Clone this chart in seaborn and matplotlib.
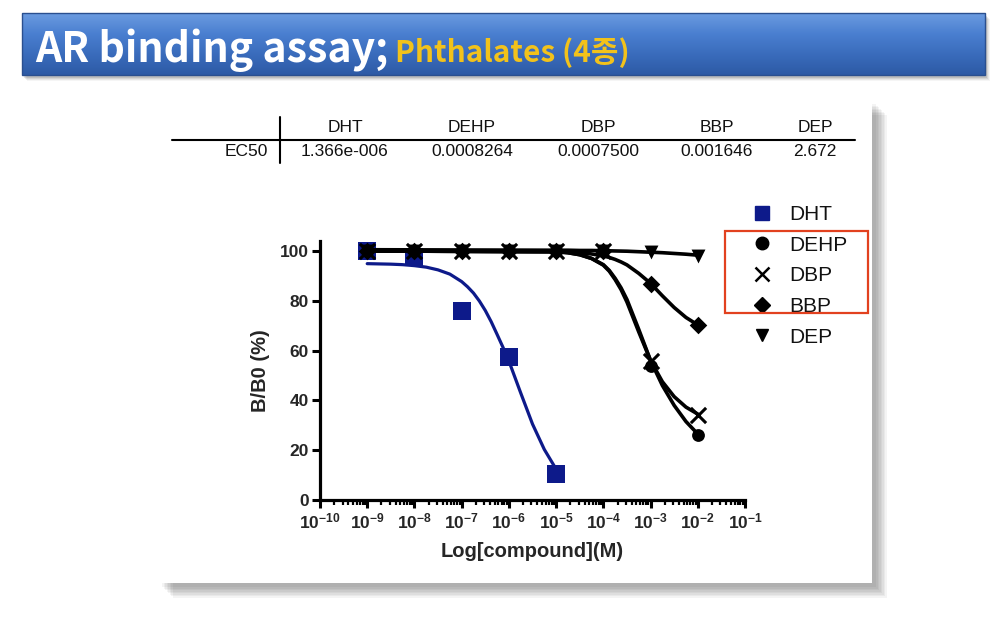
import numpy as np
import pandas as pd
import matplotlib
matplotlib.use("Agg")
import matplotlib.pyplot as plt
import seaborn as sns
from matplotlib.patches import Rectangle
from matplotlib.lines import Line2D
import matplotlib.ticker as mticker

# ---------------- data ----------------
compounds = ["DHT", "DEHP", "DBP", "BBP", "DEP"]
ec50_labels = ["1.366e-006", "0.0008264", "0.0007500", "0.001646", "2.672"]

dht_dose_log = [-9, -8, -7, -6, -5]
dht_y = [100, 97.7, 76, 57.3, 10.5]

phth_dose_log = [-9, -8, -7, -6, -5, -4, -3, -2]
dehp_y = [100, 100, 100, 100, 100, 100, 54, 26]
dbp_y = [100, 100, 100, 100, 100, 100, 56, 34]
bbp_y = [100, 100, 100, 100, 100, 100, 86.6, 70.3]
dep_y = [100, 100, 100, 100, 100, 100, 99.7, 98]

# fitted curves
dht_fit_log = [-9, -8.75, -8.5, -8.25, -8, -7.75, -7.5, -7.25, -7, -6.875, -6.75, -6.625,
               -6.5, -6.375, -6.25, -6.125, -6, -5.75, -5.5, -5.25, -5]
dht_fit_y = [94.9, 94.8, 94.7, 94.5, 94.1, 93.5, 92.4, 90.7, 87.7, 85.6, 83.1, 79.9,
             76.1, 71.6, 66.5, 61.3, 55.8, 43, 30.5, 20.3, 12.4]

phth_fit_log = [-9, -5, -4.75, -4.5, -4.25, -4, -3.875, -3.75, -3.625, -3.5, -3.25, -3,
                -2.75, -2.5, -2.25, -2]
dehp_fit_y = [100, 99.7, 99.3, 98.5, 97, 94.5, 92.2, 89, 85.2, 80.5, 68.5, 56,
              46, 38, 31.5, 26.5]
dbp_fit_y = [100, 99.7, 99.3, 98.5, 97, 94.3, 91.9, 88.5, 84.5, 79.5, 67.5, 56,
             47.5, 41.5, 37.3, 34.5]
bbp_fit_y = [100, 99.7, 99.5, 99.3, 98.8, 98, 97.4, 96.6, 95.6, 94.4, 91, 87,
             82, 77.3, 73.3, 70.3]
dep_fit_y = [100.5, 100.3, 100.3, 100.2, 100.2, 100.1, 100.05, 100, 99.95, 99.9, 99.7, 99.5,
             99.3, 99, 98.7, 98.3]

yticks = [0, 20, 40, 60, 80, 100]
xtick_exp = list(range(-10, 0))

title_main = "AR binding assay;"
title_sub = "Phthalates (4종)"
xlabel = "Log[compound](M)"
ylabel = "B/B0 (%)"

# ---------------- style ----------------
sns.set_theme(style="white")
plt.rcParams["font.family"] = ["Liberation Sans", "DejaVu Sans"]
plt.rcParams["mathtext.default"] = "regular"

W, H = 990, 626
fig = plt.figure(figsize=(W / 100, H / 100), dpi=100)
fig.patch.set_facecolor("white")


def fx(x):
    return x / W


def fy(y):
    return 1 - y / H


# ---------------- banner ----------------
for i, a in enumerate([0.10, 0.08, 0.06, 0.04]):
    fig.patches.append(Rectangle((fx(22 + 2 + i), fy(75 + 3 + i)), fx(963), 62 / H,
                                 transform=fig.transFigure, facecolor="black",
                                 alpha=a, edgecolor="none", zorder=0))
bax = fig.add_axes([fx(22), fy(75), fx(963), 62 / H], zorder=1)
grad = np.linspace(0, 1, 100).reshape(-1, 1)
cmap = matplotlib.colors.LinearSegmentedColormap.from_list(
    "bn", ["#6b9be0", "#4a7fd0", "#3a6cbc", "#2d5aa5"])
bax.imshow(grad, aspect="auto", cmap=cmap, extent=[0, 1, 0, 1], origin="upper")
bax.set_axis_off()
fig.patches.append(Rectangle((fx(22), fy(75)), fx(963), 62 / H, transform=fig.transFigure,
                             facecolor="none", edgecolor="#2a4f8f", linewidth=1, zorder=2))

title_family = ["Noto Sans CJK KR", "DejaVu Sans"]
t1 = fig.text(fx(35), fy(62), title_main, color="white", fontsize=29.5, fontweight="bold",
              family=title_family, va="baseline", zorder=3)
fig.canvas.draw()
bb = t1.get_window_extent()
fig.text(bb.x1 / W + fx(7), fy(62), title_sub, color="#f2c21b", fontsize=21.5,
         fontweight="bold", family=title_family, va="baseline", zorder=3)

# ---------------- panel with shadow ----------------
for i in range(8):
    fig.patches.append(Rectangle((fx(158 + 4 + i * 1.5), fy(583 + 4 + i * 1.5)), fx(714), 483 / H,
                                 transform=fig.transFigure, facecolor="black",
                                 alpha=0.045, edgecolor="none", zorder=0))
fig.patches.append(Rectangle((fx(158), fy(583)), fx(714), 483 / H, transform=fig.transFigure,
                             facecolor="white", edgecolor="none", zorder=0.5))

# ---------------- table ----------------
fig.lines.append(Line2D([fx(172), fx(855)], [fy(140), fy(140)], transform=fig.transFigure,
                        color="black", linewidth=1.5))
fig.lines.append(Line2D([fx(280), fx(280)], [fy(117), fy(163)], transform=fig.transFigure,
                        color="black", linewidth=1.5))
col_x = [345, 472, 598, 717, 815]
for cx, name, val in zip(col_x, compounds, ec50_labels):
    fig.text(fx(cx), fy(127), name, ha="center", va="center", fontsize=12.5, color="#111111")
    fig.text(fx(cx), fy(151), val, ha="center", va="center", fontsize=12.5, color="#111111")
fig.text(fx(268), fy(151), "EC50", ha="right", va="center", fontsize=12.5, color="#111111")

# ---------------- main axes ----------------
ax = fig.add_axes([fx(320), fy(500), fx(425), (500 - 241) / H], zorder=3)
ax.patch.set_alpha(0)
ax.set_xscale("log")

navy = "#0d1a8a"

# fitted curves
fit_dht = pd.DataFrame({"x": 10.0 ** np.array(dht_fit_log), "y": dht_fit_y})
sns.lineplot(data=fit_dht, x="x", y="y", ax=ax, color=navy, linewidth=2.3, zorder=2)

fit_rows = []
for name, ys in zip(["DEHP", "DBP", "BBP", "DEP"], [dehp_fit_y, dbp_fit_y, bbp_fit_y, dep_fit_y]):
    for lx, yv in zip(phth_fit_log, ys):
        fit_rows.append({"compound": name, "x": 10.0 ** lx, "y": yv})
fit_df = pd.DataFrame(fit_rows)
sns.lineplot(data=fit_df, x="x", y="y", units="compound", estimator=None, ax=ax,
             color="black", linewidth=2.6, zorder=3)

# points
pts_dht = pd.DataFrame({"x": 10.0 ** np.array(dht_dose_log), "y": dht_y})
sns.scatterplot(data=pts_dht, x="x", y="y", ax=ax, marker="s", s=150, color=navy,
                edgecolor=navy, linewidth=0, zorder=2.5)

marker_map = {"DEHP": "o", "DBP": "x", "BBP": "D", "DEP": "v"}
size_map = {"DEHP": 85, "DBP": 120, "BBP": 80, "DEP": 100}
for name, ys in zip(["DEHP", "DBP", "BBP", "DEP"], [dehp_y, dbp_y, bbp_y, dep_y]):
    d = pd.DataFrame({"x": 10.0 ** np.array(phth_dose_log), "y": ys})
    kw = dict(linewidth=2.2) if name == "DBP" else dict(linewidth=0)
    sns.scatterplot(data=d, x="x", y="y", ax=ax, marker=marker_map[name], s=size_map[name],
                    color="black", edgecolor="black", zorder=4, **kw)

ax.set_xlim(1e-10, 1e-1)
ax.set_ylim(0, 104)
for s in ["top", "right"]:
    ax.spines[s].set_visible(False)
for s in ["left", "bottom"]:
    ax.spines[s].set_linewidth(2.3)
    ax.spines[s].set_color("black")

ax.set_yticks(yticks)
ax.set_yticklabels([str(v) for v in yticks], fontsize=12.5, fontweight="bold")
ax.set_xticks([10.0 ** k for k in xtick_exp])
ax.set_xticklabels([f"10$^{{{k}}}$" for k in xtick_exp], fontsize=12.5, fontweight="bold")
ax.xaxis.set_minor_locator(mticker.LogLocator(base=10, subs=np.arange(2, 10), numticks=20))
ax.xaxis.set_minor_formatter(mticker.NullFormatter())
ax.tick_params(axis="both", which="major", direction="out", length=6, width=2.2,
               color="black", pad=2, bottom=True, left=True)
ax.tick_params(axis="x", which="minor", direction="out", length=3.5, width=1.6,
               color="black", bottom=True)
ax.set_xlabel(xlabel, fontsize=14.5, fontweight="bold", labelpad=8)
ax.set_ylabel(ylabel, fontsize=14.5, fontweight="bold", labelpad=7)
ax.grid(False)

# ---------------- legend ----------------
handles = [
    Line2D([], [], linestyle="none", marker="s", markersize=10, color=navy),
    Line2D([], [], linestyle="none", marker="o", markersize=9, color="black"),
    Line2D([], [], linestyle="none", marker="x", markersize=10, markeredgewidth=1.8, color="black"),
    Line2D([], [], linestyle="none", marker="D", markersize=8, color="black"),
    Line2D([], [], linestyle="none", marker="v", markersize=9, color="black"),
]
leg = fig.legend(handles, compounds, loc="upper left", bbox_to_anchor=(fx(752), fy(205)),
                 frameon=False, fontsize=15, handlelength=0.95, handletextpad=0.85,
                 labelspacing=0.56, borderpad=0, borderaxespad=0)
for t in leg.get_texts():
    t.set_color("#111111")

fig.patches.append(Rectangle((fx(725), fy(313)), fx(143), 82 / H, transform=fig.transFigure,
                             facecolor="none", edgecolor="#e2411f", linewidth=1.6, zorder=10))

fig.savefig("out.png", dpi=100)
